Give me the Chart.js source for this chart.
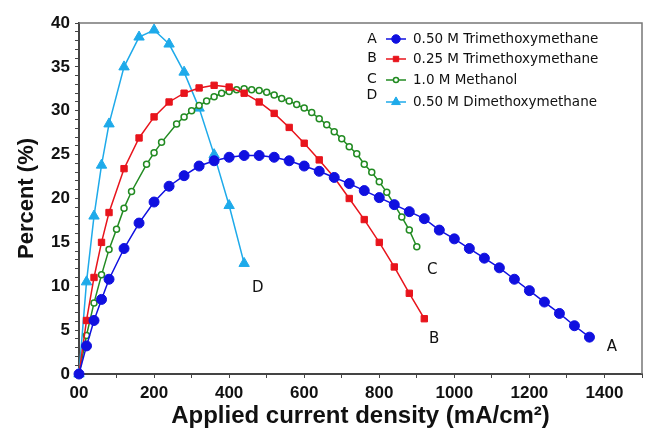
<!DOCTYPE html>
<html>
<head>
<meta charset="utf-8">
<script src="https://cdn.jsdelivr.net/npm/chart.js@4.4.1/dist/chart.umd.min.js"></script>
<style>
  html, body { margin: 0; padding: 0; background: #fff; }
  #wrap { width: 649px; height: 431px; position: relative; }
</style>
</head>
<body>
<div id="wrap"><canvas id="effChart"></canvas></div>
<script>
// A: 0.50 M Trimethoxymethane
const xA = [0,20,40,60,80,120,160,200,240,280,320,360,400,440,480,520,560,600,640,680,720,760,800,840,880,920,960,1000,1040,1080,1120,1160,1200,1240,1280,1320,1360];
const yA = [0,3.2,6.1,8.5,10.8,14.3,17.2,19.6,21.4,22.6,23.7,24.3,24.7,24.9,24.9,24.7,24.3,23.7,23.1,22.4,21.7,20.9,20.1,19.3,18.5,17.7,16.4,15.4,14.3,13.2,12.1,10.8,9.5,8.2,6.9,5.5,4.2];
// B: 0.25 M Trimethoxymethane
const xB = [0,20,40,60,80,120,160,200,240,280,320,360,400,440,480,520,560,600,640,680,720,760,800,840,880,920];
const yB = [0,6.1,11.0,15.0,18.4,23.4,26.9,29.3,31.0,32.0,32.6,32.9,32.7,32.0,31.0,29.7,28.1,26.3,24.4,22.4,20.0,17.6,15.0,12.2,9.2,6.3];
// C: 1.0 M Methanol
const xC = [0,20,40,60,80,100,120,140,180,200,220,260,280,300,320,340,360,380,400,420,440,460,480,500,520,540,560,580,600,620,640,660,680,700,720,740,760,780,800,820,840,860,880,900];
const yC = [0,4.4,8.1,11.3,14.2,16.5,18.9,20.8,23.9,25.2,26.4,28.5,29.3,30.0,30.6,31.1,31.6,32.0,32.2,32.4,32.5,32.4,32.3,32.1,31.8,31.4,31.1,30.7,30.3,29.8,29.1,28.4,27.6,26.8,25.9,25.1,23.9,23.0,21.9,20.7,19.3,17.9,16.4,14.5];
// D: 0.50 M Dimethoxymethane
const xD = [0,20,40,60,80,120,160,200,240,280,320,360,400,440];
const yD = [0,10.5,18.0,23.8,28.5,35.0,38.4,39.2,37.6,34.4,30.3,25.0,19.2,12.6];

const seriesNames = ['0.50 M Trimethoxymethane', '0.25 M Trimethoxymethane', '1.0 M Methanol', '0.50 M Dimethoxymethane'];
const seriesLetters = ['A', 'B', 'C', 'D'];

function pts(xs, ys) {
    return xs.map((x, i) => ({ x: x, y: ys[i] }));
}

// curve letters placed next to line ends (data coords)
const curveTags = [
    { t: 'A', x: 1420, y: 3.1 },
    { t: 'B', x: 946, y: 4.0 },
    { t: 'C', x: 941, y: 11.8 },
    { t: 'D', x: 476, y: 9.8 }
];

const handFont = '"Comic Sans MS", "DejaVu Sans", sans-serif';
const axisFont = '"Liberation Sans", Arial, sans-serif';

const extrasPlugin = {
    id: 'extras',
    afterDraw(chart) {
        const ctx = chart.ctx;
        const a = chart.chartArea;
        const xs = chart.scales.x, ys = chart.scales.y;
        ctx.save();
        // frame top and right
        ctx.strokeStyle = '#777';
        ctx.lineWidth = 1.5;
        ctx.beginPath();
        ctx.moveTo(a.left, a.top);
        ctx.lineTo(a.right, a.top);
        ctx.lineTo(a.right, a.bottom);
        ctx.stroke();

        // curve letters
        ctx.fillStyle = '#111';
        ctx.font = '15px ' + handFont;
        ctx.textAlign = 'center';
        ctx.textBaseline = 'middle';
        curveTags.forEach(c => {
            ctx.fillText(c.t, xs.getPixelForValue(c.x), ys.getPixelForValue(c.y));
        });

        // legend
        const rowY = [39, 59, 80, 102];
        const letterY = [39, 58, 79, 95];
        chart.data.datasets.forEach((ds, i) => {
            const y = rowY[i];
            ctx.fillStyle = '#111';
            ctx.font = '14px ' + handFont;
            ctx.textAlign = 'center';
            ctx.fillText(seriesLetters[i], 372, letterY[i]);
            ctx.strokeStyle = ds.borderColor;
            ctx.lineWidth = 1.5;
            ctx.beginPath();
            ctx.moveTo(386, y);
            ctx.lineTo(406, y);
            ctx.stroke();
            ctx.fillStyle = ds.pointBackgroundColor;
            ctx.strokeStyle = ds.borderColor;
            ctx.lineWidth = ds.pointBorderWidth;
            Chart.helpers.drawPoint(ctx, {
                pointStyle: ds.pointStyle,
                radius: ds.pointRadius * 0.85,
                borderWidth: ds.pointBorderWidth
            }, 396, y);
            ctx.fillStyle = '#111';
            ctx.textAlign = 'left';
            ctx.font = '13.5px ' + handFont;
            ctx.fillText(seriesNames[i], 413, y);
        });
        ctx.restore();
    }
};

Chart.register(extrasPlugin);

const ctx = document.getElementById('effChart').getContext('2d');
new Chart(ctx, {
    type: 'scatter',
    data: {
        datasets: [
            {
                label: seriesNames[0], data: pts(xA, yA), showLine: true,
                borderColor: '#1010e0', backgroundColor: '#1010e0', pointBackgroundColor: '#1010e0',
                borderWidth: 1.5, pointStyle: 'circle', pointRadius: 5, pointBorderWidth: 1, clip: false
            },
            {
                label: seriesNames[1], data: pts(xB, yB), showLine: true,
                borderColor: '#e8141c', backgroundColor: '#e8141c', pointBackgroundColor: '#e8141c',
                borderWidth: 1.5, pointStyle: 'rect', pointRadius: 4.5, pointBorderWidth: 1, clip: false
            },
            {
                label: seriesNames[2], data: pts(xC, yC), showLine: true,
                borderColor: '#228b22', backgroundColor: '#ffffff', pointBackgroundColor: '#ffffff',
                borderWidth: 1.5, pointStyle: 'circle', pointRadius: 3, pointBorderWidth: 1.5, clip: false
            },
            {
                label: seriesNames[3], data: pts(xD, yD), showLine: true,
                borderColor: '#1eaaea', backgroundColor: '#1eaaea', pointBackgroundColor: '#1eaaea',
                borderWidth: 1.5, pointStyle: 'triangle', pointRadius: 6, pointBorderWidth: 1, clip: false
            }
        ]
    },
    options: {
        responsive: true,
        maintainAspectRatio: false,
        animation: false,
        layout: { padding: { top: 23, right: 6, left: 0, bottom: 0 } },
        plugins: {
            legend: { display: false },
            tooltip: { enabled: false }
        },
        scales: {
            x: {
                type: 'linear', min: 0, max: 1500,
                afterFit(scale) { scale.height = 57; },
                ticks: {
                    stepSize: 100, autoSkip: false, maxRotation: 0, padding: 5,
                    color: '#111', font: { family: axisFont, size: 17, weight: 'bold' },
                    callback: v => (v % 200 === 0 && v <= 1400) ? (v === 0 ? '00' : v) : ''
                },
                grid: { drawOnChartArea: false, drawTicks: true, tickLength: 4, color: '#444' },
                border: { display: true, color: '#444', width: 2 },
                title: {
                    display: true, text: 'Applied current density (mA/cm\u00B2)', color: '#111',
                    font: { family: axisFont, size: 24, weight: 'bold' },
                    padding: { top: 0, bottom: 0 }
                }
            },
            y: {
                type: 'linear', min: 0, max: 40,
                afterFit(scale) { scale.width = 79; },
                ticks: {
                    stepSize: 1, autoSkip: false, padding: 5,
                    color: '#111', font: { family: axisFont, size: 17, weight: 'bold' },
                    callback: v => (v % 5 === 0) ? v : ''
                },
                grid: { drawOnChartArea: false, drawTicks: true, tickLength: 4, color: '#444' },
                border: { display: true, color: '#444', width: 2 },
                title: {
                    display: true, text: 'Percent (%)', color: '#111',
                    font: { family: axisFont, size: 22, weight: 'bold' },
                    padding: { top: 14, bottom: 0 }
                }
            }
        }
    }
});
</script>
</body>
</html>
